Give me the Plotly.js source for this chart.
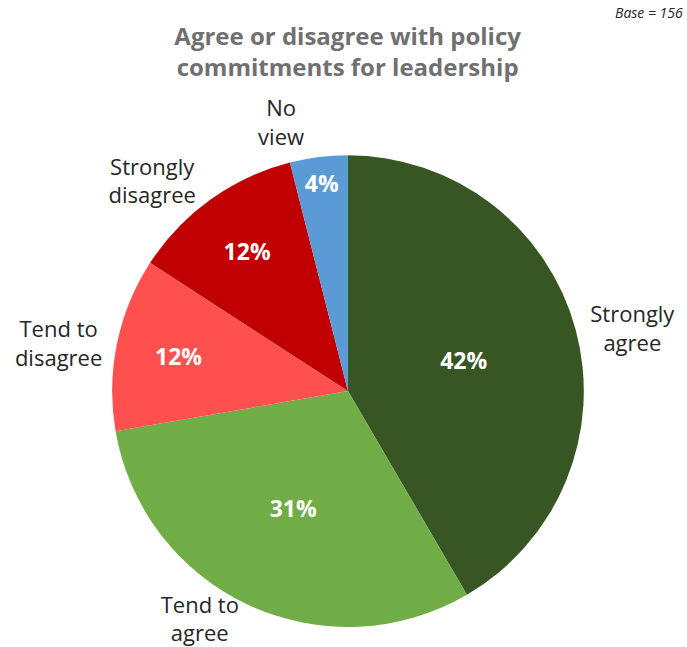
<!DOCTYPE html>
<html>
<head>
<meta charset="utf-8">
<script src="https://cdn.plot.ly/plotly-3.0.1.min.js"></script>
<style>html,body{margin:0;padding:0;background:#fff}#chart{width:687px;height:647px}.textline{display:none}</style>
</head>
<body>
<div id="chart"></div>
<script>
const categories = ["Strongly<br>agree", "Tend to<br>agree", "Tend to<br>disagree", "Strongly<br>disagree", "No<br>view"];
const values = [42, 31, 12, 12, 4];
const pctLabels = ["42%", "31%", "12%", "12%", "4%"];
const colors = ["#375623", "#70ad47", "#ff5050", "#c00000", "#5b9bd5"];

const domain = {x: [0.163, 0.850], y: [0.031, 0.760]};
// slightly tighter ring used only to keep the bottom label inside the frame
const domainTight = {x: [0.1805, 0.8325], y: [0.0495, 0.7415]};

const inner = {
  type: "pie",
  labels: categories,
  values: values,
  text: pctLabels,
  textinfo: "text",
  texttemplate: "%{text}",
  textposition: "inside",
  insidetextorientation: "horizontal",
  textfont: {family: "Open Sans, sans-serif", size: 23, color: "#ffffff", weight: "bold"},
  marker: {colors: colors, line: {width: 0}},
  sort: false,
  direction: "clockwise",
  rotation: 0,
  domain: domain,
  hoverinfo: "none",
  showlegend: false
};

function labelTrace(dom, show) {
  return {
    type: "pie",
    labels: categories,
    values: values,
    textinfo: "label",
    texttemplate: categories.map((c, i) => show[i] ? "%{label}" : " "),
    textposition: "outside",
    textfont: {family: "Open Sans, sans-serif", size: 22, color: "#262626"},
    marker: {colors: colors.map(() => "rgba(0,0,0,0)"), line: {width: 0}},
    sort: false,
    direction: "clockwise",
    rotation: 0,
    domain: dom,
    hoverinfo: "none",
    showlegend: false,
    automargin: false
  };
}

const outerMain = labelTrace(domain, [true, false, true, true, true]);
const outerBottom = labelTrace(domainTight, [false, true, false, false, false]);

const layout = {
  width: 687,
  height: 647,
  margin: {l: 0, r: 0, t: 0, b: 0},
  paper_bgcolor: "#ffffff",
  title: {
    text: "<b>Agree or disagree with policy<br>commitments for leadership</b>",
    font: {family: "Open Sans, sans-serif", size: 24, color: "#707070"},
    x: 0.506, xanchor: "center",
    y: 0.93, yanchor: "top", yref: "container"
  },
  annotations: [{
    text: "<i>Base = 156</i>",
    xref: "paper", yref: "paper",
    x: 0.997, y: 0.998, xanchor: "right", yanchor: "top",
    showarrow: false,
    font: {family: "Open Sans, sans-serif", size: 14, color: "#262626"}
  }],
  showlegend: false
};

Plotly.newPlot("chart", [inner, outerMain, outerBottom], layout, {displayModeBar: false, staticPlot: true});
</script>
</body>
</html>
